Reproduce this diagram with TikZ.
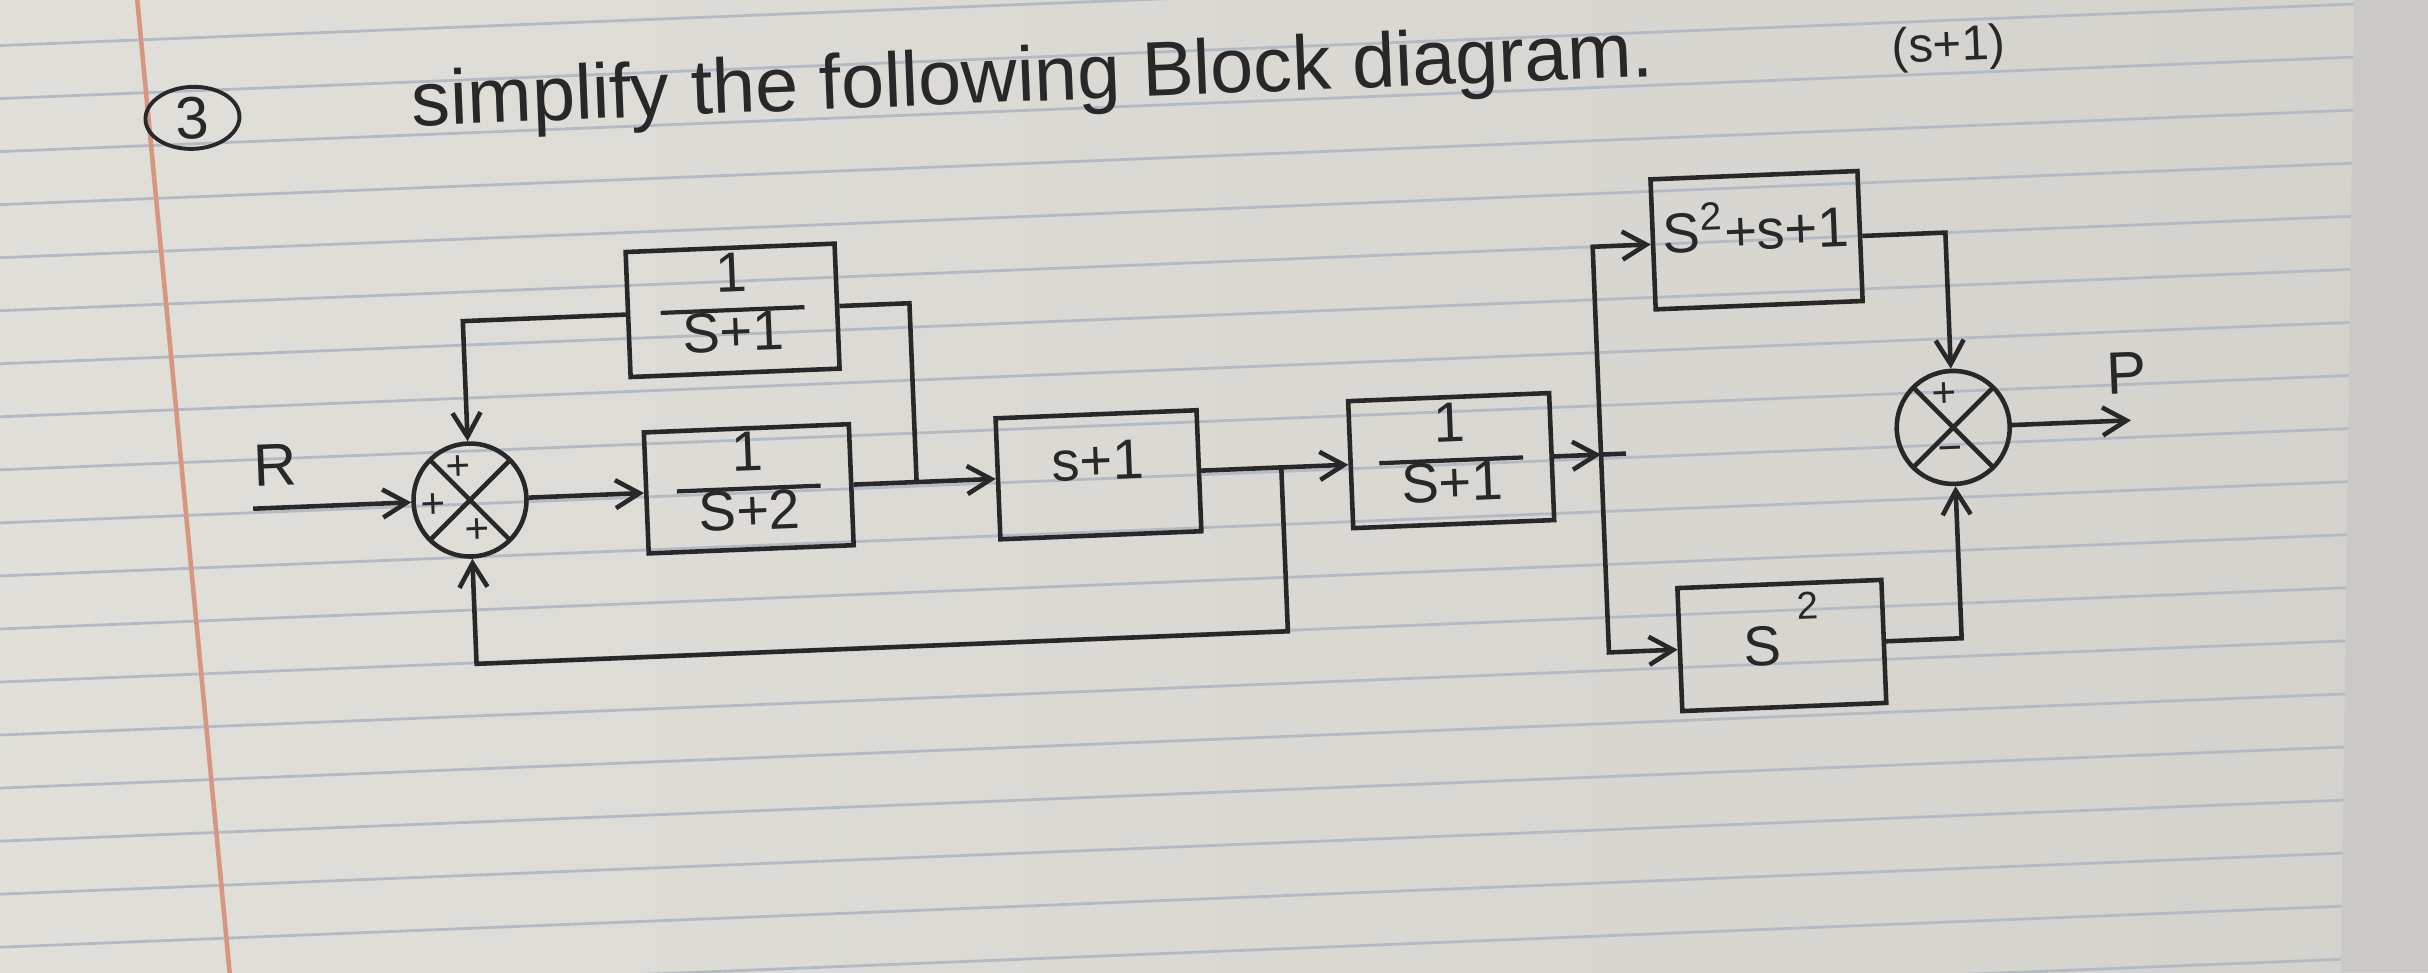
\documentclass[tikz,border=0pt]{standalone}
\usepackage{fontspec}
\setmainfont{Liberation Sans}
\usetikzlibrary{arrows.meta, positioning, shapes.geometric}

\definecolor{paperL}{RGB}{224,223,218}
\definecolor{paperR}{RGB}{211,210,205}
\definecolor{desk}{RGB}{202,201,197}
\definecolor{rulecol}{RGB}{178,187,196}
\definecolor{marginred}{RGB}{214,150,128}
\definecolor{ink}{RGB}{40,40,40}

\setlength{\arrayrulewidth}{1.2pt}
\newcommand{\blockfrac}[2]{{\renewcommand{\arraystretch}{0.8}\begin{tabular}{c}#1\\\hline #2\end{tabular}}}

\begin{document}
\begin{tikzpicture}[x=0.01cm, y=-0.01cm, >={Straight Barb[length=2.4mm,width=2.8mm]}, line width=1.3pt]
    \tikzset{blockbox/.style={draw, rectangle, minimum width=2.05cm, minimum height=1.24cm, inner sep=0pt, font=\fontsize{16}{19}\selectfont},
             sumnode/.style={circle, draw, minimum size=1.13cm, inner sep=0pt,
                 path picture={\draw (path picture bounding box.north west) -- (path picture bounding box.south east)
                                     (path picture bounding box.north east) -- (path picture bounding box.south west);}},
             sign/.style={inner sep=0pt, font=\fontsize{12}{14}\selectfont},
             lbl/.style={inner sep=0pt, font=\fontsize{17}{20}\selectfont},
             ruleline/.style={draw=rulecol, line width=0.8pt}}
    \useasboundingbox (0,0) rectangle (2428,972);
    \shade[left color=paperL, right color=paperR] (0,0) rectangle (2428,972);
    \clip (0,0) rectangle (2428,972);
    \begin{scope}[rotate around={2.3:(470,500)}, transform shape, ink]
        % ruled sheet
        \foreach \k in {-11,...,10}
            \draw[ruleline] (-300,{504+53*\k}) -- (2700,{504+53*\k});
        \draw[marginred, line width=1.3pt] (155,-60) -- (214,1020);

        % heading
        \node[ellipse, draw, minimum width=0.94cm, minimum height=0.62cm, inner sep=0pt, line width=1.1pt,
              font=\fontsize{17}{20}\selectfont] (qnum) at (208,107) {3};
        \node[anchor=base west, font=\fontsize{22}{26}\selectfont] (title) at (414,124) {simplify the following Block diagram.};
        \node[font=\fontsize{14}{16}\selectfont] (hint) at (1966,108) {(s+1)};

        % first loop
        \node[sumnode] (sum1) at (470,500) {};
        \node[sign] (sum1a) at (460,467) {+};
        \node[sign] (sum1b) at (433,504) {+};
        \node[sign] (sum1c) at (476,531) {+};
        \node[lbl] (rlabel) at (277,457) {R};
        \node[blockbox, minimum width=2.09cm, minimum height=1.25cm] (recip1) at (740,321) {\blockfrac{1}{S+1}};
        \node[blockbox, minimum height=1.21cm] (recip2) at (749,500) {\blockfrac{1}{S+2}};
        \node[blockbox, minimum width=2.01cm, minimum height=1.21cm, text depth=0.28cm] (lead) at (1099,500) {s+1};
        \node[blockbox, minimum width=2.01cm, minimum height=1.27cm] (recip3) at (1452,500) {\blockfrac{1}{S+1}};

        \coordinate (rin) at (253,500);
        \coordinate (j1) at (917,500);
        \coordinate (j1up) at (917,321);
        \coordinate (fbtop) at (470,321);
        \coordinate (j2) at (1282,500);
        \coordinate (j2down) at (1282,664);
        \coordinate (fbbot) at (470,664);

        \draw[->] (rin) -- (sum1);
        \draw[->] (sum1) -- (recip2);
        \draw[->] (recip2) -- (lead);
        \draw (j1) -- (j1up) -- (recip1);
        \draw[->] (recip1) -- (fbtop) -- (sum1);
        \draw[->] (lead) -- (recip3);
        \draw[->] (j2) -- (j2down) -- (fbbot) -- (sum1);

        % parallel branches
        \node[blockbox, minimum width=2.07cm, minimum height=1.30cm, text depth=0.3cm] (quad) at (1766,292) {S\textsuperscript{2}+s+1};
        \node[blockbox, minimum width=2.04cm, minimum height=1.23cm] (sqr) at (1775,698)
            {S\hspace{0.18cm}\raisebox{0.45cm}[0pt][0pt]{\fontsize{11}{12}\selectfont 2}};
        \node[sumnode] (sum2) at (1955,487) {};
        \node[sign] (sum2a) at (1947,454) {+};
        \node[sign] (sum2b) at (1951,514) {\textminus};
        \node[lbl] (plabel) at (2130,440) {P};

        \coordinate (j3) at (1602,500);
        \coordinate (j3stub) at (1627,500);
        \coordinate (j3up) at (1602,292);
        \coordinate (j3down) at (1602,698);
        \coordinate (qcorner) at (1955,292);
        \coordinate (scorner) at (1955,698);
        \coordinate (pout) at (2133,487);

        \draw[->] (recip3) -- (j3);
        \draw (j3) -- (j3stub);
        \draw[->] (j3) -- (j3up) -- (quad);
        \draw[->] (j3) -- (j3down) -- (sqr);
        \draw[->] (quad) -- (qcorner) -- (sum2);
        \draw[->] (sqr) -- (scorner) -- (sum2);
        \draw[->] (sum2) -- (pout);
    \end{scope}
    \fill[desk] (2354,0) -- (2428,0) -- (2428,972) -- (2341,972) -- cycle;
\end{tikzpicture}
\end{document}
